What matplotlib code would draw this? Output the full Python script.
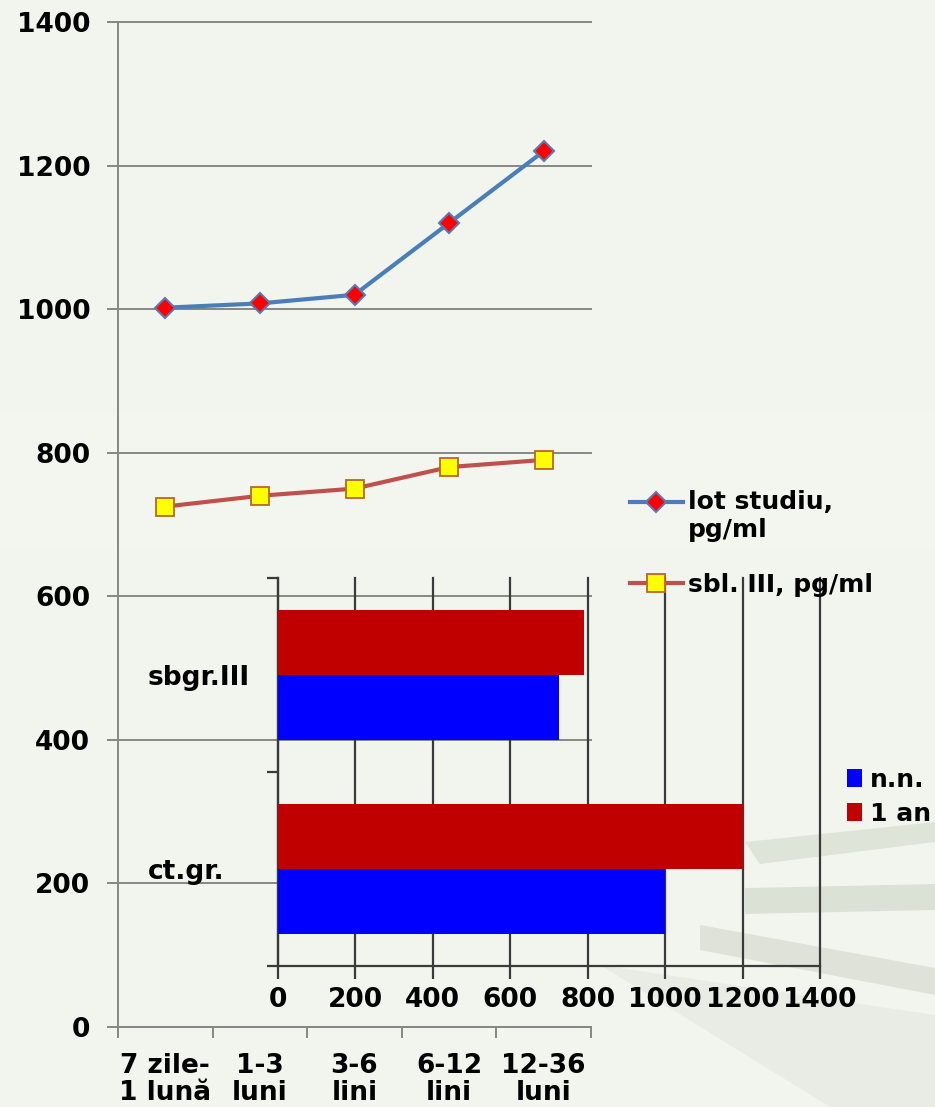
import matplotlib
matplotlib.use("Agg")
import matplotlib.pyplot as plt
from matplotlib.patches import Polygon
from matplotlib.legend_handler import HandlerLine2D

# ---- data -------------------------------------------------------------
periods = ["7 zile-\n1 lună", "1-3\nluni", "3-6\nlini", "6-12\nlini", "12-36\nluni"]
lot_studiu = [1002, 1008, 1020, 1120, 1220]
sbl_iii = [725, 740, 750, 780, 790]

groups = ["ct.gr.", "sbgr.III"]
nn_values = [1000, 725]
an1_values = [1200, 790]

y_ticks = [0, 200, 400, 600, 800, 1000, 1200, 1400]
bar_ticks = [0, 200, 400, 600, 800, 1000, 1200, 1400]

# ---- figure -----------------------------------------------------------
W, H = 935, 1107
BG = "#f2f5ee"
plt.rcParams["font.family"] = ["DejaVu Sans"]
plt.rcParams["font.weight"] = "bold"

fig = plt.figure(figsize=(W / 100, H / 100), dpi=100, facecolor=BG)


def fpt(x, y):
    return (x / W, 1 - y / H)


def fbox(x0, y0, x1, y1):
    return [x0 / W, 1 - y1 / H, (x1 - x0) / W, (y1 - y0) / H]


# faint decorative background shapes
deco = [
    ([(0, 413), (935, 413), (935, 550), (0, 550)], "#f6f8f3", 0.4),
    ([(745, 842), (935, 822), (935, 842), (760, 864)], "#cdd4c6", 0.5),
    ([(745, 888), (935, 884), (935, 910), (745, 914)], "#c8cfc0", 0.5),
    ([(700, 925), (935, 968), (935, 995), (700, 950)], "#c6cdbe", 0.45),
    ([(600, 965), (935, 1015), (935, 1107), (830, 1107)], "#d9ded3", 0.35),
]
for pts, col, a in deco:
    fig.add_artist(Polygon([fpt(*p) for p in pts], closed=True, transform=fig.transFigure,
                           facecolor=col, edgecolor="none", alpha=a, zorder=-5))

GRID = "#868686"


class FirstLineHandler(HandlerLine2D):
    """Line handle aligned with the first line of a two-line label."""

    def __init__(self, shift=0.0, **kw):
        super().__init__(**kw)
        self.shift = shift

    def create_artists(self, legend, orig_handle, xdescent, ydescent, width, height,
                       fontsize, trans):
        artists = super().create_artists(legend, orig_handle, xdescent, ydescent,
                                         width, height, fontsize, trans)
        for a in artists:
            a.set_ydata([y + self.shift * fontsize for y in a.get_ydata()])
        return artists


# ---- main line chart --------------------------------------------------
ax = fig.add_axes(fbox(118, 22, 591, 1027))
ax.set_facecolor("none")
x = list(range(len(periods)))
l1, = ax.plot(x, lot_studiu, color="#4a7ebb", lw=3, marker="D", ms=10,
              mfc="#ff0000", mec="#5b79b0", mew=1.5, zorder=3, label="lot studiu,\npg/ml")
l2, = ax.plot(x, sbl_iii, color="#c0504d", lw=3, marker="s", ms=13,
              mfc="#ffff00", mec="#b8662a", mew=1.3, zorder=3, label="sbl. III, pg/ml")

ax.set_xlim(-0.5, len(periods) - 0.5)
ax.set_ylim(0, 1400)
ax.set_yticks(y_ticks)
ax.set_yticklabels([str(v) for v in y_ticks], fontsize=19, fontweight="bold")
ax.yaxis.grid(True, color=GRID, lw=1.4)
ax.set_axisbelow(True)
ax.tick_params(axis="y", length=8, width=1.4, color=GRID, pad=12)
ax.set_xticks([i - 0.5 for i in range(len(periods) + 1)])
ax.set_xticklabels([])
ax.set_xticks(x, minor=True)
ax.set_xticklabels(periods, minor=True, fontsize=19, fontweight="bold", linespacing=1.05)
ax.tick_params(axis="x", which="major", length=8, width=1.4, color=GRID)
ax.tick_params(axis="x", which="minor", length=0, pad=19)
for s in ["top", "right"]:
    ax.spines[s].set_visible(False)
for s in ["left", "bottom"]:
    ax.spines[s].set_color(GRID)
    ax.spines[s].set_linewidth(1.4)
for g in ax.get_ygridlines():
    g.set_clip_on(False)

fig.legend(handles=[l1, l2], loc="upper left",
           bbox_to_anchor=fpt(630, 490), bbox_transform=fig.transFigure,
           frameon=False, handlelength=2.1, handletextpad=0.2,
           labelspacing=1.25, borderpad=0, borderaxespad=0,
           handler_map={l1: FirstLineHandler(shift=0.6), l2: HandlerLine2D()},
           prop={"weight": "bold", "size": 18})

# ---- inset horizontal bar chart --------------------------------------
bx = fig.add_axes(fbox(278, 578, 820, 966))
bx.set_facecolor("none")
pos = list(range(len(groups)))
h = 1 / 3
bx.barh([p - h / 2 for p in pos], nn_values, height=h, color="#0000ff", zorder=3, label="n.n.")
bx.barh([p + h / 2 for p in pos], an1_values, height=h, color="#c00000", zorder=3, label="1 an")
bx.set_xlim(0, 1400)
bx.set_ylim(-0.5, len(groups) - 0.5)
bx.set_xticks(bar_ticks)
bx.set_xticklabels([str(v) for v in bar_ticks], fontsize=19, fontweight="bold")
bx.xaxis.grid(True, color="#3a3a3a", lw=1.6)
bx.set_axisbelow(True)
bx.tick_params(axis="x", length=9, width=1.6, color="#3a3a3a", pad=6)
bx.set_yticks([p - 0.5 for p in range(len(groups) + 1)])
bx.set_yticklabels([])
bx.tick_params(axis="y", which="major", length=8, width=1.6, color="#3a3a3a")
bx.set_yticks(pos, minor=True)
bx.set_yticklabels(groups, minor=True, fontsize=19, fontweight="bold", ha="left")
bx.tick_params(axis="y", which="minor", length=0, pad=94)
for s in ["top", "right"]:
    bx.spines[s].set_visible(False)
for s in ["left", "bottom"]:
    bx.spines[s].set_color("#3a3a3a")
    bx.spines[s].set_linewidth(1.6)
for g in bx.get_xgridlines():
    g.set_clip_on(False)

bh, bl = bx.get_legend_handles_labels()
fig.legend(bh, bl, loc="upper left", bbox_to_anchor=fpt(847, 768),
           bbox_transform=fig.transFigure, frameon=False,
           handlelength=0.6, handleheight=0.75, handletextpad=0.3,
           labelspacing=0.4, borderpad=0, borderaxespad=0,
           prop={"weight": "bold", "size": 18})

fig.savefig("out.png", dpi=100, facecolor=BG)
